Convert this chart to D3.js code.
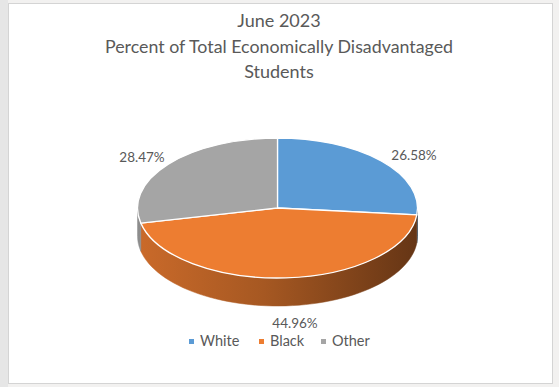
<!DOCTYPE html>
<meta charset="utf-8">
<style>
  body { margin: 0; background: #f2f1f0; }
  svg { display: block; }
  .title { font-family: Lato, "Open Sans", sans-serif; font-size: 18px; fill: #595959; }
  .lbl { font-family: Lato, "Open Sans", sans-serif; font-size: 13.5px; fill: #595959; }
  .legend text { font-family: Lato, "Open Sans", sans-serif; font-size: 14.5px; fill: #595959; }
</style>
<body>
<svg></svg>
<script src="https://d3js.org/d3.v7.min.js"></script>
<script>
  // data
  var categories = ['White', 'Black', 'Other'];
  var percents = [26.58, 44.96, 28.47];
  var colors = ['#5b9bd5', '#ed7d31', '#a5a5a5'];
  var titleLines = ['June 2023', 'Percent of Total Economically Disadvantaged', 'Students'];

  var W = 559, H = 387;
  var cx = 277.5, cy = 208, rx = 140, ry = 70, depth = 28;

  var svg = d3.select('svg').attr('width', W).attr('height', H);

  // frame
  svg.append('rect').attr('x', 0).attr('y', 0).attr('width', 8).attr('height', H).attr('fill', '#e6e6e6');
  svg.append('rect')
      .attr('x', 8.5).attr('y', 3.5).attr('width', 544).attr('height', 380)
      .attr('fill', '#fff').attr('stroke', '#d4d4d4');

  svg.append('g').selectAll('text')
      .data(titleLines)
      .enter().append('text')
      .attr('class', 'title')
      .attr('x', 279)
      .attr('y', function(d, i) { return 27 + i * 25.5; })
      .attr('text-anchor', 'middle')
      .attr('textLength', function(d, i) { return i == 1 ? 348 : null; })
      .attr('lengthAdjust', 'spacingAndGlyphs')
      .text(function(d) { return d; });

  var pie = d3.pie().sort(null).value(function(d) { return d; });
  var arcs = pie(percents);

  var defs = svg.append('defs');
  colors.forEach(function(c, i) {
    var g = defs.append('linearGradient')
        .attr('id', 'side' + i)
        .attr('gradientUnits', 'userSpaceOnUse')
        .attr('x1', -rx).attr('x2', rx).attr('y1', 0).attr('y2', 0);
    g.append('stop').attr('offset', '0%').attr('stop-color', d3.color(c).darker(0.45));
    g.append('stop').attr('offset', '45%').attr('stop-color', d3.color(c).darker(1.0));
    g.append('stop').attr('offset', '100%').attr('stop-color', d3.color(c).darker(2.4));
  });

  var pie3d = svg.append('g').attr('transform', 'translate(' + cx + ',' + cy + ')');

  function px(a) { return rx * Math.sin(a); }
  function py(a) { return -ry * Math.cos(a); }

  // side walls (front half only)
  arcs.forEach(function(d, i) {
    var a0 = Math.max(d.startAngle, Math.PI / 2),
        a1 = Math.min(d.endAngle, 3 * Math.PI / 2);
    if (a1 <= a0) return;
    var n = 60, pts = [];
    d3.range(n + 1).forEach(function(k) {
      var a = a0 + (a1 - a0) * k / n;
      pts.push([px(a), py(a)]);
    });
    d3.range(n + 1).forEach(function(k) {
      var a = a1 - (a1 - a0) * k / n;
      pts.push([px(a), py(a) + depth]);
    });
    pie3d.append('path')
        .attr('d', d3.line()(pts) + 'Z')
        .attr('fill', 'url(#side' + i + ')')
        .attr('stroke', 'url(#side' + i + ')')
        .attr('stroke-width', 0.5);
  });

  // top faces
  var arc = d3.arc().innerRadius(0).outerRadius(rx);
  pie3d.append('g')
      .attr('transform', 'scale(1,' + (ry / rx) + ')')
      .selectAll('path')
      .data(arcs)
      .enter().append('path')
      .attr('d', arc)
      .attr('fill', function(d, i) { return colors[i]; })
      .attr('stroke', '#fff')
      .attr('stroke-width', 1.3)
      .attr('vector-effect', 'non-scaling-stroke');

  // data labels
  var labelPos = [[414, 160], [295, 328], [142, 162]];
  svg.append('g').selectAll('text')
      .data(arcs)
      .enter().append('text')
      .attr('class', 'lbl')
      .attr('x', function(d, i) { return labelPos[i][0]; })
      .attr('y', function(d, i) { return labelPos[i][1]; })
      .attr('text-anchor', 'middle')
      .text(function(d) { return d.data.toFixed(2) + '%'; });

  // legend
  var legendX = [189, 259, 321];
  var legend = svg.append('g').attr('class', 'legend')
      .selectAll('g')
      .data(categories)
      .enter().append('g')
      .attr('transform', function(d, i) { return 'translate(' + legendX[i] + ',346)'; });
  legend.append('rect')
      .attr('x', 0).attr('y', -7).attr('width', 5).attr('height', 5)
      .attr('fill', function(d, i) { return colors[i]; });
  legend.append('text')
      .attr('x', 11)
      .attr('y', 0)
      .text(function(d) { return d; });
</script>
</body>
